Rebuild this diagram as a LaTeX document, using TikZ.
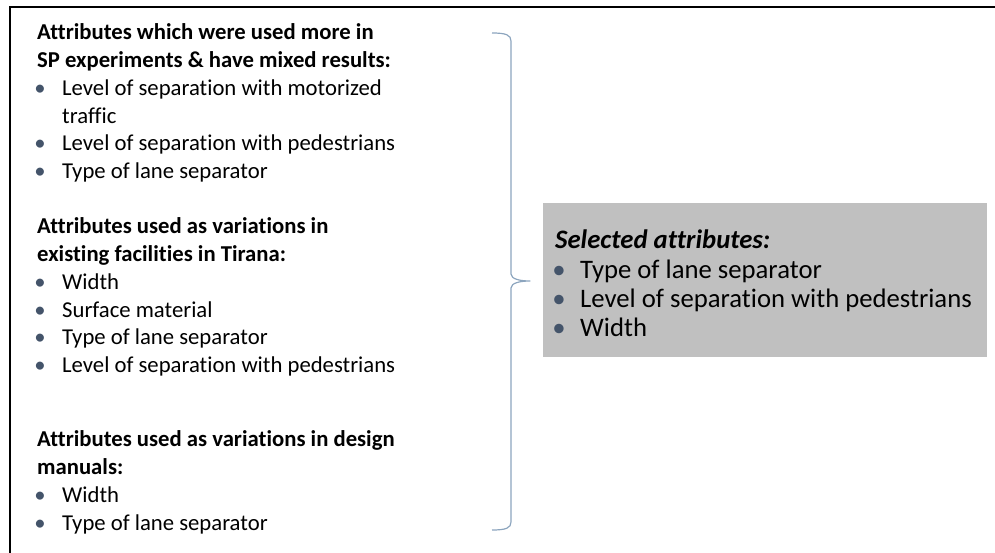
\documentclass[tikz,border=0pt]{standalone}
\usepackage{fontspec}
\setmainfont{Carlito}[Ligatures=NoCommon]
\definecolor{bulletc}{RGB}{68,84,106}
\definecolor{bracec}{RGB}{140,165,190}
\definecolor{boxgrey}{RGB}{192,192,192}
\newcommand\lbul[3]{\node[lb] (#1b) at (40,#2) {•};\node[lt] (#1) at (62,#2) {#3};}
\newcommand\rbul[3]{\node[rb] (#1b) at (559,#2) {•};\node[rt] (#1) at (580,#2) {#3};}
\begin{document}
\begin{tikzpicture}[x=1pt,y=-1pt,
  lt/.style={anchor=base west, inner sep=0pt, font=\fontsize{22.7}{27.7}\selectfont},
  lh/.style={anchor=base west, inner sep=0pt, font=\fontsize{22.7}{27.7}\selectfont\bfseries},
  lb/.style={anchor=base, inner sep=0pt, text=bulletc, font=\fontsize{22.7}{27.7}\selectfont},
  rt/.style={anchor=base west, inner sep=0pt, font=\fontsize{26.7}{29}\selectfont},
  rh/.style={anchor=base west, inner sep=0pt, font=\fontsize{26.7}{29}\selectfont\bfseries\itshape},
  rb/.style={anchor=base, inner sep=0pt, text=bulletc, font=\fontsize{26.7}{29}\selectfont},
  bracestyle/.style={draw=bracec, line width=1.2pt, line join=round}]
\useasboundingbox (0,0) rectangle (995,553);
% frame (top and left edges only)
\draw[line width=2pt] (995,7) -- (10,7) -- (10,553);
% block 1
\node[lh] (h1a) at (37,40) {Attributes which were used more in};
\node[lh] (h1b) at (37,67.7) {SP experiments \& have mixed results:};
\lbul{a1}{95.4}{Level of separation with motorized}
\node[lt] (a1c) at (62,123.1) {traffic};
\lbul{a2}{150.8}{Level of separation with pedestrians}
\lbul{a3}{178.5}{Type of lane separator}
% block 2
\node[lh] (h2a) at (37,233.9) {Attributes used as variations in};
\node[lh] (h2b) at (37,261.6) {existing facilities in Tirana:};
\lbul{b1}{289.3}{Width}
\lbul{b2}{317}{Surface material}
\lbul{b3}{344.7}{Type of lane separator}
\lbul{b4}{372.4}{Level of separation with pedestrians}
% block 3
\node[lh] (h3a) at (37,446.9) {Attributes used as variations in design};
\node[lh] (h3b) at (37,474.6) {manuals:};
\lbul{c1}{502.3}{Width}
\lbul{c2}{530}{Type of lane separator}
% selected box
\node[fill=boxgrey, inner sep=0pt, minimum width=444pt, minimum height=154pt, anchor=north west] (sel) at (543,203) {};
\node[rh] (selh) at (555,249) {Selected attributes:};
\rbul{s1}{278}{Type of lane separator}
\rbul{s2}{307}{Level of separation with pedestrians}
\rbul{s3}{336}{Width}
% brace
\coordinate (btop) at (492,33);
\coordinate (bbot) at (492,530);
\coordinate (btip) at (530,281);
\draw[bracestyle] (btop) .. controls (506,33) and (511,35) .. (511,41) -- (511,274)
  .. controls (511,279) and (520,281) .. (btip)
  .. controls (520,281) and (511,283) .. (511,288) -- (511,522)
  .. controls (511,528) and (506,530) .. (bbot);
\end{tikzpicture}
\end{document}
